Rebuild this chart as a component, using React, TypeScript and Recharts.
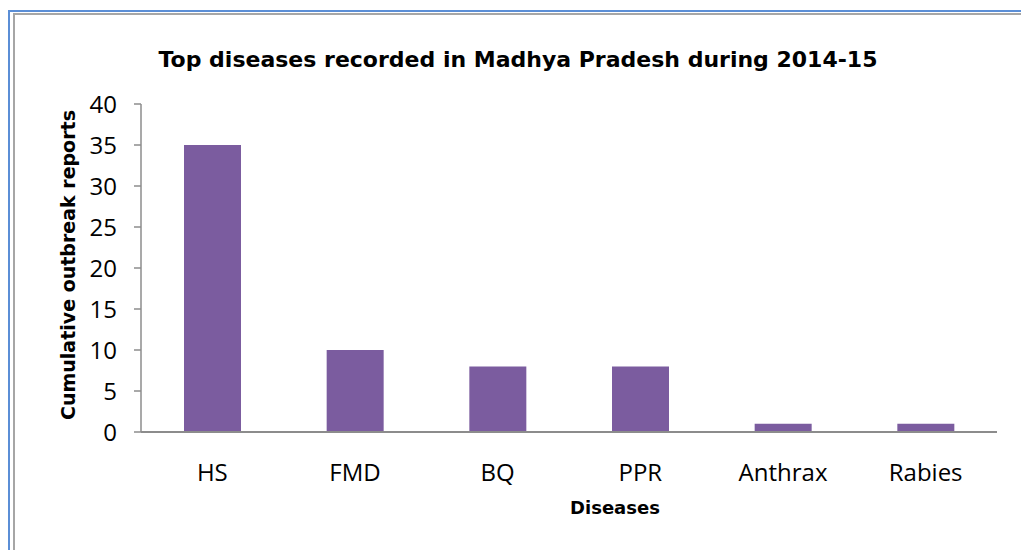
import React from 'react';
import { BarChart, Bar, XAxis, YAxis } from 'recharts';

const categories = ['HS', 'FMD', 'BQ', 'PPR', 'Anthrax', 'Rabies'];
const reports = [35, 10, 8, 8, 1, 1];
const yTicks = [0, 5, 10, 15, 20, 25, 30, 35, 40];

const data = categories.map((name, i) => ({ name, value: reports[i] }));

const TITLE_FONT = "'Comic Sans MS', 'DejaVu Sans', sans-serif";
const TICK_FONT = "'Open Sans', Calibri, sans-serif";

export default function App() {
  return (
    <div style={{ position: 'absolute', left: 0, top: 0, width: 1021, height: 550, background: '#fff' }}>
      <div style={{ position: 'absolute', left: 8, top: 10, width: 1013, height: 2, background: '#5b8ed6' }} />
      <div style={{ position: 'absolute', left: 8, top: 10, width: 2, height: 540, background: '#5b8ed6' }} />
      <div style={{ position: 'absolute', left: 13, top: 13, width: 1008, height: 2, background: '#a6a6a6' }} />
      <div style={{ position: 'absolute', left: 13, top: 13, width: 2, height: 537, background: '#a6a6a6' }} />
      <BarChart
        width={1021}
        height={550}
        data={data}
        margin={{ top: 104, right: 24, bottom: 88, left: 81 }}
        style={{ position: 'absolute', left: 0, top: 0 }}
      >
        <text
          x={518}
          y={67}
          textAnchor="middle"
          fontFamily={TITLE_FONT}
          fontWeight="bold"
          fontSize={22}
          fill="#000"
        >
          Top diseases recorded in Madhya Pradesh during 2014-15
        </text>
        <text
          x={615}
          y={514}
          textAnchor="middle"
          fontFamily={TITLE_FONT}
          fontWeight="bold"
          fontSize={18}
          fill="#000"
        >
          Diseases
        </text>
        <text
          x={75}
          y={265}
          textAnchor="middle"
          transform="rotate(-90 75 265)"
          fontFamily={TITLE_FONT}
          fontWeight="bold"
          fontSize={19}
          fill="#000"
        >
          Cumulative outbreak reports
        </text>
        <XAxis
          dataKey="name"
          height={30}
          tickLine={false}
          tickMargin={26}
          axisLine={{ stroke: '#8c8c8c', strokeWidth: 2 }}
          tick={{ fontFamily: TICK_FONT, fontSize: 24, fill: '#000' }}
          interval={0}
        />
        <YAxis
          width={60}
          domain={[0, 40]}
          ticks={yTicks}
          tickSize={7}
          tickMargin={17}
          interval={0}
          axisLine={{ stroke: '#8c8c8c', strokeWidth: 1.5 }}
          tickLine={{ stroke: '#8c8c8c', strokeWidth: 1.5 }}
          tick={{ fontFamily: TICK_FONT, fontSize: 24, fill: '#000' }}
        />
        <Bar dataKey="value" fill="#7b5c9f" barSize={57} isAnimationActive={false} />
      </BarChart>
    </div>
  );
}
